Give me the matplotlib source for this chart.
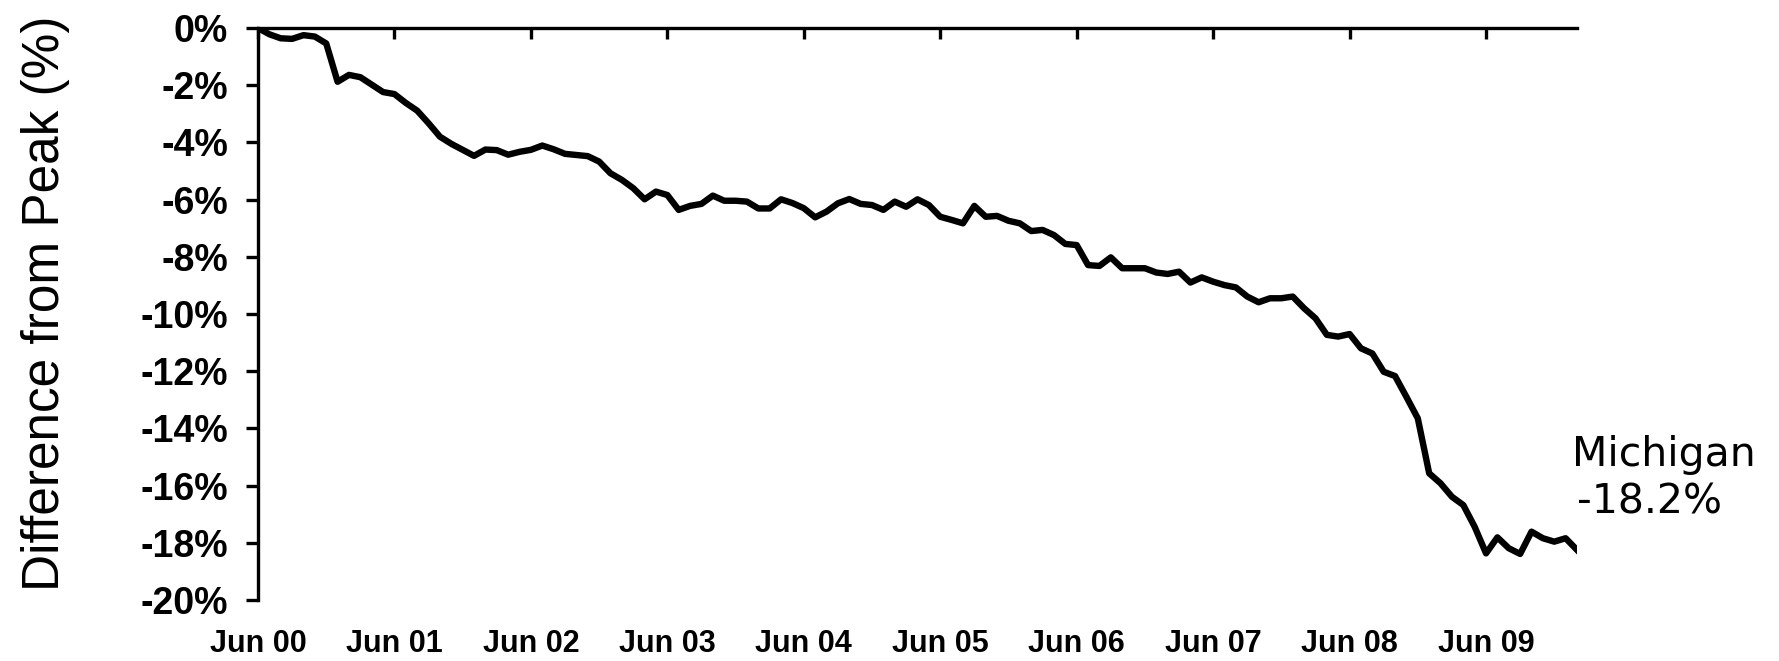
import matplotlib
matplotlib.use("Agg")
import matplotlib.pyplot as plt
import numpy as np

# Monthly values, Jun 2000 .. Feb 2010 (difference from peak, %)
values = [
    0.0, -0.22, -0.36, -0.38, -0.25, -0.30, -0.54, -1.88, -1.64, -1.72,
    -1.98, -2.24, -2.31, -2.62, -2.89, -3.33, -3.80, -4.05, -4.26, -4.47,
    -4.25, -4.27, -4.43, -4.33, -4.26, -4.11, -4.24, -4.40, -4.44, -4.48,
    -4.67, -5.08, -5.31, -5.60, -5.99, -5.72, -5.84, -6.36, -6.22, -6.15,
    -5.86, -6.04, -6.04, -6.07, -6.31, -6.31, -5.99, -6.12, -6.30, -6.62,
    -6.42, -6.13, -5.98, -6.15, -6.19, -6.36, -6.07, -6.25, -5.99, -6.19,
    -6.60, -6.71, -6.83, -6.22, -6.60, -6.57, -6.74, -6.83, -7.10, -7.06,
    -7.24, -7.55, -7.59, -8.29, -8.32, -8.02, -8.40, -8.40, -8.40, -8.55,
    -8.60, -8.52, -8.90, -8.72, -8.87, -8.99, -9.07, -9.39, -9.59, -9.45,
    -9.45, -9.39, -9.80, -10.15, -10.73, -10.79, -10.70, -11.20, -11.38, -12.02,
    -12.17, -12.90, -13.65, -15.57, -15.92, -16.39, -16.68, -17.44, -18.37, -17.81,
    -18.19, -18.39, -17.61, -17.84, -17.96, -17.84, -18.25,
]
months = list(range(len(values)))  # month index from Jun 2000
tick_months = [0, 12, 24, 36, 48, 60, 72, 84, 96, 108]
tick_labels = ["Jun 00", "Jun 01", "Jun 02", "Jun 03", "Jun 04",
               "Jun 05", "Jun 06", "Jun 07", "Jun 08", "Jun 09"]
y_ticks = [0, -2, -4, -6, -8, -10, -12, -14, -16, -18, -20]
y_labels = ["%d%%" % v for v in y_ticks]
series_name = "Michigan"
last_label = "-18.2%"

fig = plt.figure(figsize=(17.79, 6.61), dpi=100)
ax = fig.add_axes([258/1779, 1 - 600/661, (1577-258)/1779, (600-28)/661])

ax.plot(months, values, color="black", linewidth=4.6, solid_joinstyle="round")

ax.set_xlim(0, len(values) - 1)
ax.set_ylim(-20, 0)

for s in ["right", "bottom"]:
    ax.spines[s].set_visible(False)
for s in ["left", "top"]:
    ax.spines[s].set_linewidth(2.4)

ax.set_yticks(y_ticks)
ax.set_yticklabels(y_labels, fontfamily="Liberation Sans", fontweight="bold", fontsize=27)
ax.tick_params(axis="y", direction="out", length=8.5, width=2.4, pad=13)

ax.set_xticks(tick_months)
ax.set_xticklabels(tick_labels, fontfamily="Liberation Sans", fontweight="bold", fontsize=22)
ax.tick_params(axis="x", top=True, bottom=False, labeltop=False, labelbottom=True,
               direction="in", length=8, width=2.4, pad=21)

ax.set_ylabel("Difference from Peak (%)", fontfamily="Liberation Sans", fontsize=37)
ax.yaxis.set_label_coords((70 - 258) / 1319, (600 - 303) / 572)

fig.text(1572/1779, 1 - 466/661, series_name, fontfamily="DejaVu Sans", fontsize=29.5,
         ha="left", va="baseline")
fig.text(1577/1779, 1 - 513/661, last_label, fontfamily="DejaVu Sans", fontsize=29.5,
         ha="left", va="baseline")

fig.savefig("out.png", dpi=100)
